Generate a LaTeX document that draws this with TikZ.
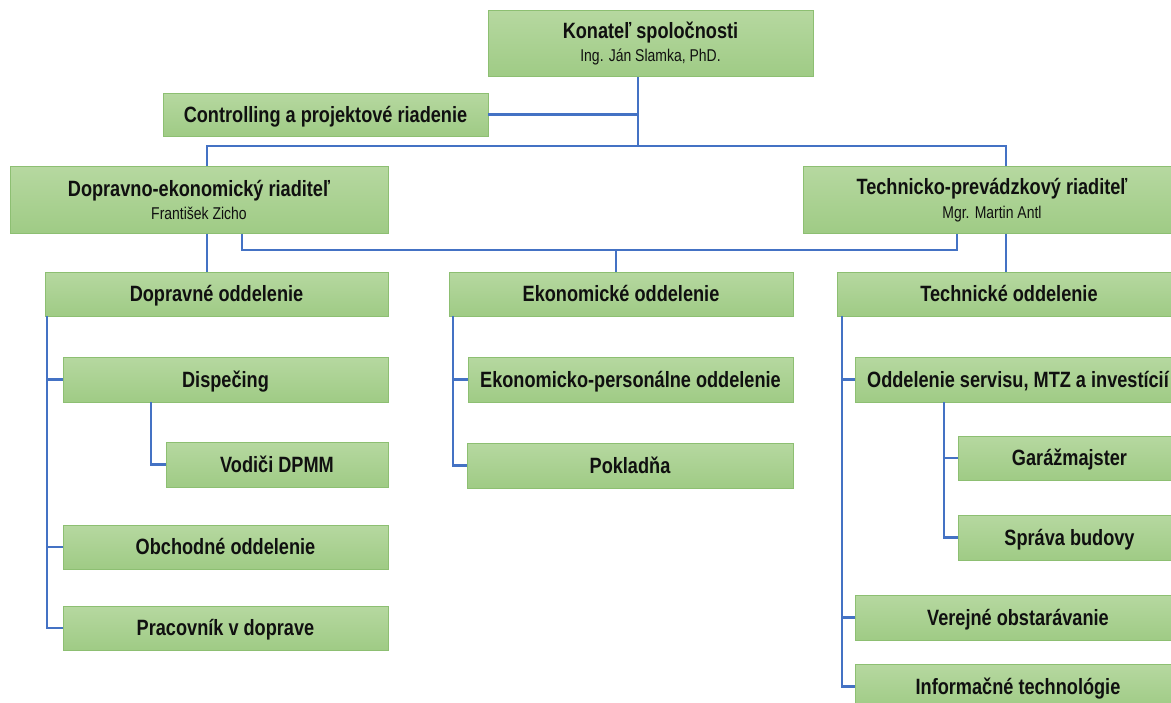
\documentclass[tikz,border=0pt]{standalone}
\usepackage{fontspec}
\setmainfont{Liberation Sans}[FakeStretch=0.82]
\usepackage{tikz}
\usetikzlibrary{positioning, calc}
\definecolor{boxtop}{HTML}{B6D8A0}
\definecolor{boxbot}{HTML}{9FCB85}
\definecolor{boxline}{HTML}{8DBF72}
\definecolor{linkblue}{HTML}{4472C4}
\definecolor{inkblack}{HTML}{101010}

\begin{document}
\begin{tikzpicture}[
    x=0.02cm, y=-0.02cm,
    box/.style={rectangle, draw=boxline, line width=0.4pt, top color=boxtop, bottom color=boxbot, minimum height=0.88cm, inner sep=1pt, align=center, text=inkblack, text height=9pt, text depth=0pt, font=\fontsize{12.6}{13.3}\selectfont\bfseries},
    headbox/.style={box, minimum height=1.33cm, text height=, text depth=},
    link/.style={draw=linkblue, line width=1.25pt}
]
\clip (0,0) rectangle (1171,703);

% Top level
\node[headbox, minimum width=6.5cm] (ceo) at (650.5,43.5) {Konateľ spoločnosti\\{\mdseries\fontsize{9.7}{11}\selectfont Ing. Ján Slamka, PhD.}};
\node[box, minimum width=6.5cm, minimum height=0.86cm] (ctrl) at (325.5,114.5) {Controlling a projektové riadenie};

% Directors
\node[headbox, minimum width=7.56cm] (dir1) at (199,200) {Dopravno-ekonomický riaditeľ\\{\mdseries\fontsize{9.7}{11}\selectfont František Zicho}};
\node[headbox, minimum width=7.56cm] (dir2) at (992,200) {Technicko-prevádzkový riaditeľ\\{\mdseries\fontsize{9.7}{11}\selectfont Mgr. Martin Antl}};

% Departments
\node[box, minimum width=6.86cm] (dop) at (216.5,294) {Dopravné oddelenie};
\node[box, minimum width=6.88cm] (eko) at (621,294) {Ekonomické oddelenie};
\node[box, minimum width=6.88cm] (tech) at (1009,294) {Technické oddelenie};

% Dopravne oddelenie
\node[box, minimum width=6.5cm, minimum height=0.9cm] (disp) at (225.5,379.5) {Dispečing};
\node[box, minimum width=4.44cm, minimum height=0.9cm] (vod) at (277,464.5) {Vodiči DPMM};
\node[box, minimum width=6.5cm] (obch) at (225.5,547) {Obchodné oddelenie};
\node[box, minimum width=6.5cm] (prac) at (225.5,628) {Pracovník v doprave};

% Ekonomicke oddelenie
\node[box, minimum width=6.5cm, minimum height=0.9cm] (ekop) at (630.5,379.5) {Ekonomicko-personálne oddelenie};
\node[box, minimum width=6.52cm, minimum height=0.9cm] (pokl) at (630,465.5) {Pokladňa};

% Technicke oddelenie
\node[box, minimum width=6.52cm, minimum height=0.9cm] (serv) at (1018,379.5) {Oddelenie servisu, MTZ a investícií};
\node[box, minimum width=4.46cm] (gar) at (1069.5,458) {Garážmajster};
\node[box, minimum width=4.46cm, minimum height=0.9cm] (sprava) at (1069.5,537.5) {Správa budovy};
\node[box, minimum width=6.52cm, minimum height=0.9cm] (ver) at (1018,617.5) {Verejné obstarávanie};
\node[box, minimum width=6.52cm, minimum height=0.9cm] (info) at (1018,686.5) {Informačné technológie};

% Connections
\coordinate (hub) at (638,146);
\coordinate (bus) at (616,250);
\draw[link] (ceo.south -| hub) -- (hub);
\draw[link] (ctrl.east) -- (ctrl.east -| hub);
\draw[link] ([xshift=0.16cm]dir1.north) |- (hub) -| ([xshift=0.28cm]dir2.north);
\draw[link] ([xshift=0.86cm]dir1.south) |- (bus) -| ([xshift=-0.7cm]dir2.south);
\draw[link] (bus) -- (bus |- eko.north);
\coordinate (d1) at ([xshift=0.16cm]dir1.south);
\draw[link] (d1) -- (d1 |- dop.north);
\coordinate (d2) at ([xshift=0.28cm]dir2.south);
\draw[link] (d2) -- (d2 |- tech.north);

% Trunks
\coordinate (dtrunk) at ([xshift=0.04cm]dop.south west);
\draw[link] (dtrunk) |- (prac.west);
\draw[link] (dtrunk |- disp.west) -- (disp.west);
\draw[link] (dtrunk |- obch.west) -- (obch.west);
\draw[link] ([xshift=1.76cm]disp.south west) |- (vod.west);

\coordinate (etrunk) at ([xshift=0.08cm]eko.south west);
\draw[link] (etrunk) |- (pokl.west);
\draw[link] (etrunk |- ekop.west) -- (ekop.west);

\coordinate (ttrunk) at ([xshift=0.1cm]tech.south west);
\draw[link] (ttrunk) |- (info.west);
\draw[link] (ttrunk |- serv.west) -- (serv.west);
\draw[link] (ttrunk |- ver.west) -- (ver.west);
\coordinate (strunk) at ([xshift=1.78cm]serv.south west);
\draw[link] (strunk) |- (sprava.west);
\draw[link] (strunk |- gar.west) -- (gar.west);

\end{tikzpicture}
\end{document}
